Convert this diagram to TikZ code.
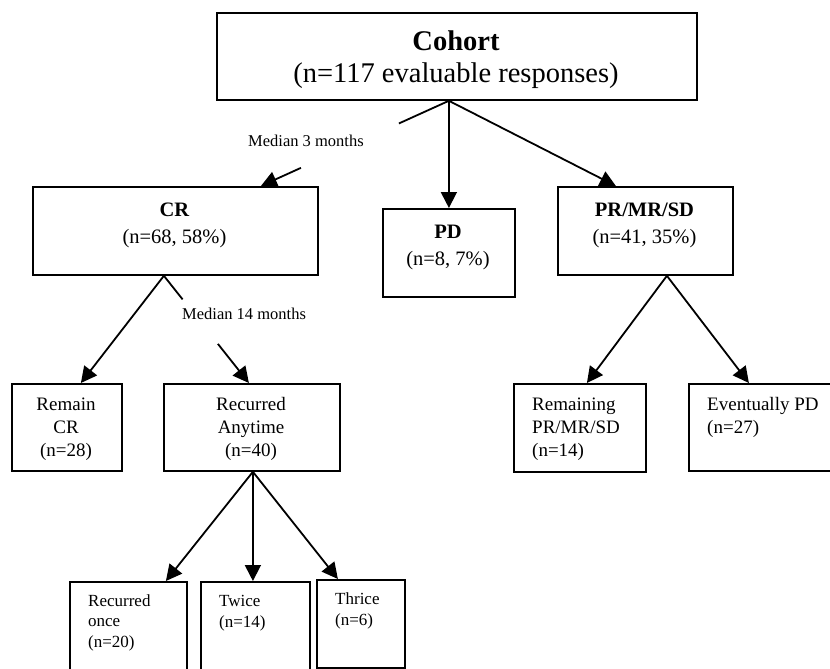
\documentclass[tikz,border=0pt]{standalone}
\usepackage{fontspec}
\setmainfont{Liberation Serif}
\usetikzlibrary{arrows.meta,calc}
\begin{document}
\begin{tikzpicture}[x=1pt,y=-1pt,
  box/.style={draw, line width=1.8pt, inner sep=0pt, anchor=north west},
  arr/.style={line width=1.8pt, -{Triangle[length=16pt,width=16pt]}},
  ln/.style={line width=1.8pt},
  ctxt/.style={inner sep=0pt, align=center, anchor=base},
  ltxt/.style={inner sep=0pt, align=left, anchor=base west},
  big/.style={font=\fontsize{28.5}{32}\selectfont},
  mid/.style={font=\fontsize{20.5}{27}\selectfont},
  low/.style={font=\fontsize{19}{23}\selectfont},
  bot/.style={font=\fontsize{17}{20.5}\selectfont},
  lab/.style={inner sep=0pt, anchor=base west, font=\fontsize{16.5}{20}\selectfont}]
\clip (0,0) rectangle (830,669);
% boxes
\node[box, minimum width=480pt, minimum height=87pt] (cohort) at (216,12) {};
\node[box, minimum width=285pt, minimum height=88pt] (cr) at (32,186) {};
\node[box, minimum width=132pt, minimum height=88pt] (pd) at (382,208) {};
\node[box, minimum width=175pt, minimum height=88pt] (pr) at (557,186) {};
\node[box, minimum width=110pt, minimum height=87pt] (remcr) at (11,383) {};
\node[box, minimum width=176pt, minimum height=87pt] (rec) at (163,383) {};
\node[box, minimum width=132pt, minimum height=88pt] (remain) at (513,383) {};
\node[box, minimum width=170pt, minimum height=87pt] (evpd) at (688,383) {};
\node[box, minimum width=117pt, minimum height=110pt] (once) at (69,581) {};
\node[box, minimum width=109pt, minimum height=110pt] (twice) at (200,581) {};
\node[box, minimum width=88pt, minimum height=88pt] (thrice) at (316,579) {};
% texts (anchored at the baseline of their last line)
\node[ctxt, big] (cohortt) at (456,82) {\textbf{Cohort}\\(n=117 evaluable responses)};
\node[ctxt, mid] (crt) at (174.5,243) {\textbf{CR}\\(n=68, 58\%)};
\node[ctxt, mid] (pdt) at (448,265) {\textbf{PD}\\(n=8, 7\%)};
\node[ctxt, mid] (prt) at (644.5,243) {\textbf{PR/MR/SD}\\(n=41, 35\%)};
\node[ctxt, low] (remcrt) at (66,456) {Remain\\CR\\(n=28)};
\node[ctxt, low] (rect) at (251,456) {Recurred\\Anytime\\(n=40)};
\node[ltxt, low] (remaint) at (532,456) {Remaining\\PR/MR/SD\\(n=14)};
\node[ltxt, low] (evpdt) at (707,433) {Eventually PD\\(n=27)};
\node[ltxt, bot] (oncet) at (88,647) {Recurred\\once\\(n=20)};
\node[ltxt, bot] (twicet) at (219,627) {Twice\\(n=14)};
\node[ltxt, bot] (thricet) at (335,625) {Thrice\\(n=6)};
\node[lab] (m3) at (248,146) {Median 3 months};
\node[lab] (m14) at (182,319) {Median 14 months};
% connectors
\coordinate (c0) at (cohort.south -| pd.north);
\coordinate (crin) at ($(cr.north)+(85.5,0)$);
\draw[arr] (c0) -- (pd.north);
\draw[arr] (c0) -- ($(pr.north)+(-29.5,0)$);
\draw[ln] (c0) -- ($(c0)!0.266!(crin)$);
\draw[arr] ($(c0)!0.787!(crin)$) -- (crin);
\coordinate (crout) at ($(cr.south)+(-11.5,0)$);
\coordinate (recin) at ($(rec.north)+(-3,0)$);
\draw[arr] (crout) -- ($(remcr.north)+(14,0)$);
\draw[ln] (crout) -- ($(crout)!0.22!(recin)$);
\draw[arr] ($(crout)!0.635!(recin)$) -- (recin);
\coordinate (recout) at ($(rec.south)+(1,0)$);
\draw[arr] (recout) -- ($(once.north)+(37.5,0)$);
\draw[arr] (recout) -- (recout |- twice.north);
\draw[arr] (recout) -- ($(thrice.north)+(-23,0)$);
\coordinate (prout) at ($(pr.south)+(21.5,0)$);
\draw[arr] (prout) -- ($(remain.north)+(7,0)$);
\draw[arr] (prout) -- ($(evpd.north)+(-25,0)$);
\end{tikzpicture}
\end{document}
